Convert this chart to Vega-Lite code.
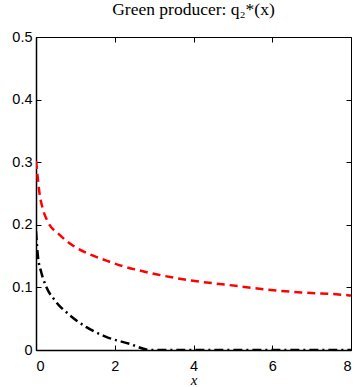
{
  "$schema": "https://vega.github.io/schema/vega-lite/v6.json",
  "width": 315,
  "height": 313,
  "autosize": {"type": "none"},
  "padding": {"left": 36, "top": 37, "right": 6, "bottom": 37},
  "background": "white",
  "config": {
    "view": {"stroke": "black", "strokeWidth": 1},
    "axis": {
      "grid": false,
      "labelFont": "Liberation Sans",
      "labelFontSize": 14.5,
      "labelColor": "black",
      "domainColor": "black",
      "domainWidth": 1.5,
      "tickColor": "black",
      "tickWidth": 1,
      "tickSize": -5,
      "labelPadding": 9,
      "titleFont": "Liberation Serif",
      "titleFontStyle": "italic",
      "titleFontWeight": "normal",
      "titleFontSize": 15,
      "titleColor": "black"
    }
  },
  "title": {
    "text": "Green producer: q₂*(x)",
    "font": "Liberation Serif",
    "fontSize": 17.5,
    "fontWeight": "normal",
    "color": "black",
    "offset": 11,
    "anchor": "middle"
  },
  "data": {
    "values": [
      {"s": "red", "x": 0, "q": 0.302},
      {"s": "red", "x": 0.02, "q": 0.290},
      {"s": "red", "x": 0.09, "q": 0.250},
      {"s": "red", "x": 0.17, "q": 0.226},
      {"s": "red", "x": 0.30, "q": 0.205},
      {"s": "red", "x": 0.60, "q": 0.184},
      {"s": "red", "x": 0.98, "q": 0.165},
      {"s": "red", "x": 1.40, "q": 0.152},
      {"s": "red", "x": 1.87, "q": 0.141},
      {"s": "red", "x": 2.20, "q": 0.134},
      {"s": "red", "x": 2.63, "q": 0.127},
      {"s": "red", "x": 3.05, "q": 0.121},
      {"s": "red", "x": 3.94, "q": 0.111},
      {"s": "red", "x": 4.87, "q": 0.104},
      {"s": "red", "x": 5.80, "q": 0.097},
      {"s": "red", "x": 6.73, "q": 0.092},
      {"s": "red", "x": 7.62, "q": 0.089},
      {"s": "red", "x": 8, "q": 0.087},
      {"s": "black", "x": 0, "q": 0.19},
      {"s": "black", "x": 0.05, "q": 0.149},
      {"s": "black", "x": 0.13, "q": 0.125},
      {"s": "black", "x": 0.26, "q": 0.101},
      {"s": "black", "x": 0.47, "q": 0.080},
      {"s": "black", "x": 0.85, "q": 0.056},
      {"s": "black", "x": 1.27, "q": 0.037},
      {"s": "black", "x": 1.78, "q": 0.021},
      {"s": "black", "x": 2.37, "q": 0.010},
      {"s": "black", "x": 2.9, "q": 0.0},
      {"s": "black", "x": 8, "q": 0.0}
    ]
  },
  "layer": [
    {
      "mark": {"type": "line", "strokeWidth": 2.5, "clip": true, "interpolate": "monotone"},
      "encoding": {
        "x": {
          "field": "x", "type": "quantitative",
          "scale": {"domain": [0, 8], "nice": false, "zero": false},
          "axis": {"values": [0, 2, 4, 6, 8], "title": "x", "titlePadding": 0, "labelPadding": 14}
        },
        "y": {
          "field": "q", "type": "quantitative",
          "scale": {"domain": [0, 0.5], "nice": false},
          "axis": {"values": [0, 0.1, 0.2, 0.3, 0.4, 0.5], "format": "~g", "title": null}
        },
        "color": {
          "field": "s", "type": "nominal",
          "scale": {"domain": ["red", "black"], "range": ["#ff0000", "#000000"]},
          "legend": null
        },
        "strokeDash": {
          "field": "s", "type": "nominal",
          "scale": {"domain": ["red", "black"], "range": [[8, 5], [9, 4, 2, 4]]},
          "legend": null
        }
      }
    },
    {
      "mark": {"type": "rule", "opacity": 0},
      "encoding": {
        "x": {"datum": 0, "type": "quantitative", "axis": {"orient": "top", "values": [0, 2, 4, 6, 8], "labels": false, "domain": false, "title": null}},
        "y": {"datum": 0, "type": "quantitative", "axis": {"orient": "right", "values": [0, 0.1, 0.2, 0.3, 0.4, 0.5], "labels": false, "domain": false, "title": null}}
      }
    }
  ],
  "resolve": {"axis": {"x": "independent", "y": "independent"}}
}
